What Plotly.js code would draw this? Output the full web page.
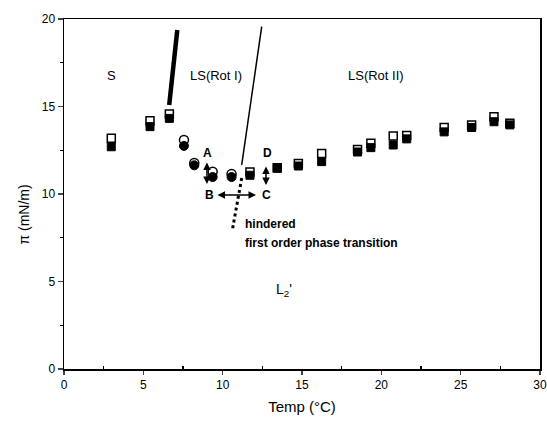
<!DOCTYPE html>
<html><head><meta charset="utf-8">
<script src="https://cdn.plot.ly/plotly-3.0.1.min.js"></script>
<style>html,body{margin:0;padding:0;background:#fff}</style>
</head><body><div id="c" style="width:547px;height:423px"></div>
<script>
// Squares (open = upper, filled = lower)
const sqX      = [2.98, 5.42, 6.64, 11.72, 13.44, 14.77, 16.24, 18.5, 19.34, 20.75, 21.6, 23.96, 25.69, 27.1, 28.1];
const sqOpen   = [13.18, 14.19, 14.57, 11.26, 11.5, 11.75, 12.32, 12.55, 12.9, 13.31, 13.35, 13.8, 13.95, 14.42, 14.05];
const sqFilled = [12.7, 13.85, 14.32, 11.07, 11.47, 11.6, 11.85, 12.4, 12.65, 12.8, 13.15, 13.55, 13.8, 14.13, 13.95];
// Circles
const ciX      = [7.56, 8.21, 9.37, 10.56];
const ciOpen   = [13.09, 11.77, 11.27, 11.14];
const ciFilled = [12.75, 11.64, 10.97, 10.97];
// Phase boundary lines
const thickX = [6.63, 7.14], thickY = [15.09, 19.37];
const thinX  = [11.2, 12.46], thinY  = [11.66, 19.56];
const dotX   = [10.63, 11.2], dotY   = [8.04, 10.91];

const F = 'Arial, "Liberation Sans", sans-serif';
const traces = [
  {x: thickX, y: thickY, mode: 'lines', line: {color: '#000', width: 4.5}},
  {x: thinX, y: thinY, mode: 'lines', line: {color: '#000', width: 1.5}},
  {x: dotX, y: dotY, mode: 'lines', line: {color: '#000', width: 3, dash: 'dot'}},
  {x: sqX, y: sqOpen, mode: 'markers', marker: {symbol: 'square', size: 8, color: '#fff', line: {color: '#000', width: 1.5}}},
  {x: sqX, y: sqFilled, mode: 'markers', marker: {symbol: 'square', size: 8, color: '#000', line: {color: '#000', width: 1}}},
  {x: ciX, y: ciOpen, mode: 'markers', marker: {symbol: 'circle', size: 9, color: '#fff', line: {color: '#000', width: 1.5}}},
  {x: ciX, y: ciFilled, mode: 'markers', marker: {symbol: 'circle', size: 9, color: '#000', line: {color: '#000', width: 1}}}
];

function txt(x, y, t, size, bold, xanchor) {
  return {x: x, y: y, xref: 'x', yref: 'y', text: bold ? '<b>' + t + '</b>' : t, showarrow: false,
    font: {family: F, size: size, color: '#000'}, xanchor: xanchor || 'center', yanchor: 'middle'};
}
function arr(x0, y0, x1, y1) {
  return {x: x1, y: y1, ax: x0, ay: y0, xref: 'x', yref: 'y', axref: 'x', ayref: 'y', text: '',
    showarrow: true, arrowhead: 2, arrowside: 'end+start', arrowsize: 1, arrowwidth: 1.5, arrowcolor: '#000',
    standoff: 0, startstandoff: 0};
}

const layout = {
  width: 547, height: 423,
  margin: {l: 64, r: 7, t: 19, b: 54},
  paper_bgcolor: '#fff', plot_bgcolor: '#fff',
  showlegend: false,
  font: {family: F, color: '#000', size: 12},
  xaxis: {range: [0, 30], tickvals: [0, 5, 10, 15, 20, 25, 30], ticks: 'outside', ticklen: 4, tickwidth: 1.2,
    showline: true, linecolor: '#000', linewidth: 1.5, mirror: true, showgrid: false, zeroline: false,
    tickfont: {family: F, size: 12}, minor: {tickvals: [2.5, 7.5, 12.5, 17.5, 22.5, 27.5], ticks: 'inside', ticklen: 3, tickcolor: '#000'},
    title: {text: 'Temp (°C)', font: {family: F, size: 15}, standoff: 10}},
  yaxis: {range: [0, 20], tickvals: [0, 5, 10, 15, 20], ticks: 'outside', ticklen: 5, tickwidth: 1.2,
    showline: true, linecolor: '#000', linewidth: 1.5, mirror: true, showgrid: false, zeroline: false,
    tickfont: {family: F, size: 12}, minor: {tickvals: [2.5, 7.5, 12.5, 17.5], ticks: 'outside', ticklen: 3, tickcolor: '#000'}},
  annotations: [
    {xref: 'paper', yref: 'paper', x: -0.085, y: 0.44, text: 'π (mN/m)', textangle: -90, showarrow: false,
     font: {family: F, size: 14}, xanchor: 'center', yanchor: 'middle'},
    txt(3.0, 16.8, 'S', 13),
    txt(9.6, 16.8, 'LS(Rot I)', 13),
    txt(19.65, 16.8, 'LS(Rot II)', 13),
    txt(9.07, 12.34, 'A', 12, true),
    txt(9.14, 9.94, 'B', 12, true),
    txt(12.79, 9.94, 'C', 12, true),
    txt(12.85, 12.34, 'D', 12, true),
    txt(11.3, 8.3, 'hindered', 12, true, 'left'),
    txt(11.3, 7.2, 'first order phase transition', 12, true, 'left'),
    txt(13.85, 4.5, 'L<sub>2</sub>\'', 14),
    arr(9.01, 11.89, 9.01, 10.57),
    arr(9.58, 9.94, 12.1, 9.94),
    arr(12.73, 11.66, 12.73, 10.51)
  ]
};
Plotly.newPlot('c', traces, layout, {staticPlot: true, displayModeBar: false});
</script></body></html>
